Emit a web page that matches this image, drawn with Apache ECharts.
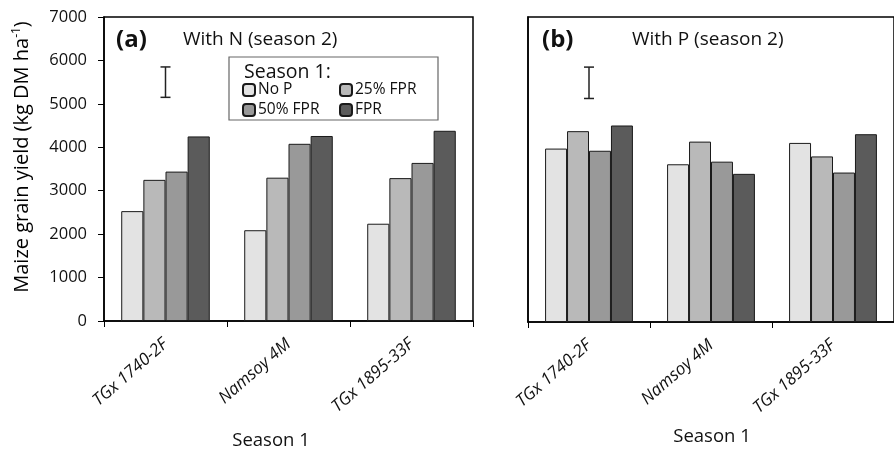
<!DOCTYPE html>
<html>
<head>
<meta charset="utf-8">
<script src="https://cdn.jsdelivr.net/npm/echarts@6/dist/echarts.min.js"></script>
<style>
html,body{margin:0;padding:0;background:#fff;}
#chart{width:894px;height:452px;}
</style>
</head>
<body>
<div id="chart"></div>
<script>
// ---- data ----
var categories = ['TGx 1740-2F', 'Namsoy 4M', 'TGx 1895-33F'];
var seriesNames = ['No P', '25% FPR', '50% FPR', 'FPR'];
var yTicks = [0, 1000, 2000, 3000, 4000, 5000, 6000, 7000];

// Panel (a): With N (season 2)
var withN_noP   = [2530, 2090, 2240];
var withN_fpr25 = [3250, 3300, 3290];
var withN_fpr50 = [3440, 4080, 3640];
var withN_fpr   = [4250, 4260, 4380];
var withN_err   = [0, 5150, 5850];   // category index, low, high

// Panel (b): With P (season 2)
var withP_noP   = [3980, 3620, 4110];
var withP_fpr25 = [4380, 4140, 3800];
var withP_fpr50 = [3930, 3680, 3430];
var withP_fpr   = [4510, 3400, 4310];
var withP_err   = [0, 5130, 5850];

var colors = ['#e3e3e3', '#b9b9b9', '#999999', '#5b5b5b'];
var FONT = 'Open Sans';

var chart = echarts.init(document.getElementById('chart'));

function barSeries(name, data, idx, color) {
  return {
    type: 'bar', name: name, data: data,
    xAxisIndex: idx, yAxisIndex: idx,
    barGap: '0%', barCategoryGap: '28%',
    itemStyle: { color: color, borderColor: '#1a1a1a', borderWidth: 1 },
    emphasis: { disabled: true },
    animation: false
  };
}

function errSeries(d, idx) {
  return {
    type: 'custom', xAxisIndex: idx, yAxisIndex: idx,
    data: [d], encode: { x: 0, y: [1, 2] },
    renderItem: function (params, api) {
      var lo = api.coord([api.value(0), api.value(1)]);
      var hi = api.coord([api.value(0), api.value(2)]);
      var hw = 5;
      var st = { stroke: '#222', lineWidth: 1.5 };
      return {
        type: 'group', children: [
          { type: 'line', shape: { x1: hi[0], y1: hi[1], x2: lo[0], y2: lo[1] }, style: st },
          { type: 'line', shape: { x1: hi[0] - hw, y1: hi[1], x2: hi[0] + hw, y2: hi[1] }, style: st },
          { type: 'line', shape: { x1: lo[0] - hw, y1: lo[1], x2: lo[0] + hw, y2: lo[1] }, style: st }
        ]
      };
    },
    animation: false, silent: true
  };
}

function xAxis(idx) {
  return {
    type: 'category', gridIndex: idx, data: categories,
    axisLine: { lineStyle: { color: '#000', width: 1.5 } },
    axisTick: { show: true, inside: false, length: 6, lineStyle: { color: '#000' } },
    axisLabel: {
      rotate: 41, interval: 0, margin: 21,
      fontFamily: FONT, fontStyle: 'italic', fontSize: 17, color: '#111'
    }
  };
}

function yAxis(idx, showLabels) {
  return {
    type: 'value', gridIndex: idx, min: 0, max: 7000, interval: 1000,
    axisLine: { show: true, lineStyle: { color: '#000', width: 1.5 } },
    axisTick: { show: showLabels, inside: false, length: 6, lineStyle: { color: '#000' } },
    axisLabel: {
      show: showLabels, margin: 17, fontFamily: FONT, fontSize: 16.5, color: '#111',
      formatter: function (v) { return yTicks.indexOf(v) >= 0 ? String(v) : ''; }
    },
    splitLine: { show: false }
  };
}

var legendText = { fontFamily: FONT, fontSize: 15.5, lineHeight: 16, color: '#111', padding: [0, 0, 0, -2] };

var option = {
  backgroundColor: '#fff',
  animation: false,
  color: colors,
  textStyle: { fontFamily: FONT },
  grid: [
    { left: 104, top: 17, width: 369, height: 304, show: true, borderColor: '#000', borderWidth: 1.5, backgroundColor: 'transparent' },
    { left: 528, top: 17, width: 370, height: 305, show: true, borderColor: '#000', borderWidth: 1.5, backgroundColor: 'transparent' }
  ],
  xAxis: [xAxis(0), xAxis(1)],
  yAxis: [yAxis(0, true), yAxis(1, false)],
  legend: [
    {
      data: [seriesNames[0], seriesNames[2]], orient: 'vertical', padding: 0,
      left: 242, top: 82, itemWidth: 12, itemHeight: 12, itemGap: 4,
      textStyle: legendText, selectedMode: false
    },
    {
      data: [seriesNames[1], seriesNames[3]], orient: 'vertical', padding: 0,
      left: 339, top: 82, itemWidth: 12, itemHeight: 12, itemGap: 4,
      textStyle: legendText, selectedMode: false
    }
  ],
  graphic: [
    { type: 'rect', shape: { x: 229, y: 57, width: 209, height: 63 }, style: { fill: '#fff', stroke: '#666', lineWidth: 1.2 }, z: 1 },
    { type: 'text', x: 244, y: 72, z: 2, style: { text: 'Season 1:', fontFamily: FONT, fontSize: 19.5, fill: '#111', verticalAlign: 'middle' } },
    { type: 'text', x: 116, y: 40, style: { text: '(a)', fontFamily: FONT, fontWeight: 'bold', fontSize: 24, fill: '#111', verticalAlign: 'middle' } },
    { type: 'text', x: 183, y: 40, style: { text: 'With N (season 2)', fontFamily: FONT, fontSize: 19, fill: '#111', verticalAlign: 'middle' } },
    { type: 'text', x: 542, y: 40, style: { text: '(b)', fontFamily: FONT, fontWeight: 'bold', fontSize: 24, fill: '#111', verticalAlign: 'middle' } },
    { type: 'text', x: 632, y: 40, style: { text: 'With P (season 2)', fontFamily: FONT, fontSize: 19, fill: '#111', verticalAlign: 'middle' } },
    { type: 'text', x: 271, y: 441, style: { text: 'Season 1', fontFamily: FONT, fontSize: 18.5, fill: '#111', align: 'center', verticalAlign: 'middle' } },
    { type: 'text', x: 712, y: 437, style: { text: 'Season 1', fontFamily: FONT, fontSize: 18.5, fill: '#111', align: 'center', verticalAlign: 'middle' } },
    {
      type: 'text', x: 22, y: 157, rotation: Math.PI / 2,
      style: {
        text: '{a|Maize grain yield (kg DM ha}{s|-1}{a|)}',
        align: 'center', verticalAlign: 'middle',
        rich: {
          a: { fontFamily: FONT, fontSize: 20, color: '#111' },
          s: { fontFamily: FONT, fontSize: 12, color: '#111', padding: [0, 0, 10, 0] }
        }
      }
    }
  ],
  series: [
    barSeries(seriesNames[0], withN_noP, 0, colors[0]),
    barSeries(seriesNames[1], withN_fpr25, 0, colors[1]),
    barSeries(seriesNames[2], withN_fpr50, 0, colors[2]),
    barSeries(seriesNames[3], withN_fpr, 0, colors[3]),
    barSeries(seriesNames[0], withP_noP, 1, colors[0]),
    barSeries(seriesNames[1], withP_fpr25, 1, colors[1]),
    barSeries(seriesNames[2], withP_fpr50, 1, colors[2]),
    barSeries(seriesNames[3], withP_fpr, 1, colors[3]),
    errSeries(withN_err, 0),
    errSeries(withP_err, 1)
  ]
};
chart.setOption(option);
</script>
</body>
</html>
